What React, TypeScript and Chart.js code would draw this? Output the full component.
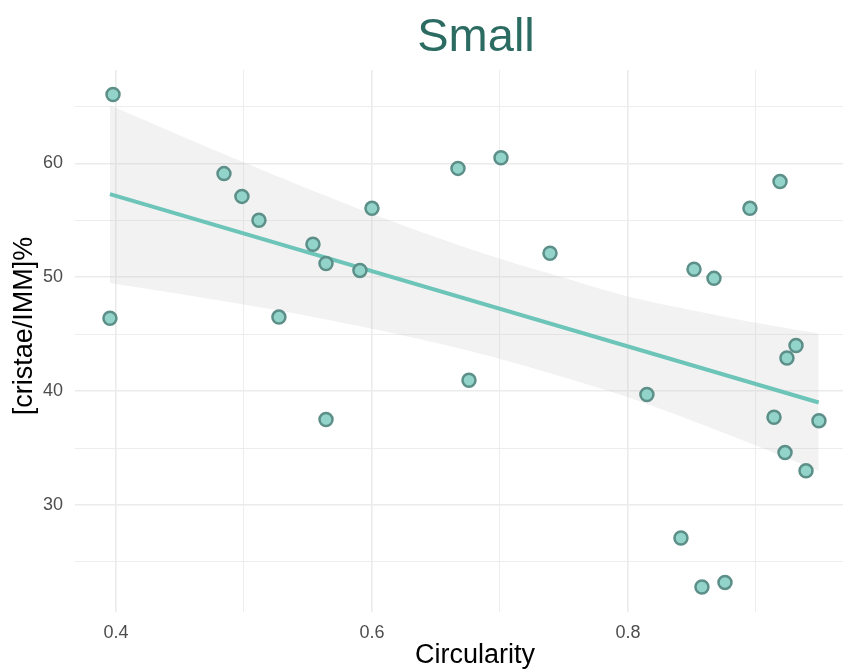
import React, { useEffect, useRef } from "react";
import { Chart, registerables } from "chart.js";

Chart.register(...registerables);

const circularity = [
  0.3977, 0.3953, 0.4844, 0.4984, 0.5117, 0.5273, 0.5539, 0.5641, 0.5641, 0.5906,
  0.6, 0.6672, 0.6758, 0.7008, 0.7391, 0.8148, 0.8414, 0.8516, 0.8578, 0.8672,
  0.8758, 0.8953, 0.9188, 0.9141, 0.9242, 0.9227, 0.9313, 0.9391, 0.9492,
];
const cristae = [
  66.05, 46.4, 59.1, 57.1, 55.0, 46.5, 52.9, 51.2, 37.5, 50.6,
  56.05, 59.56, 40.96, 60.5, 52.1, 39.7, 27.1, 50.7, 22.8, 49.9,
  23.2, 56.05, 58.4, 37.7, 42.9, 34.6, 44.0, 33.0, 37.4,
];

const fitX = [0.3953, 0.949];
const fitY = [57.3, 39.0];

const bandX = [0.3953, 0.45, 0.5, 0.55, 0.6, 0.65, 0.7, 0.75, 0.8, 0.85, 0.9, 0.949];
const bandUpper = [65.1, 62.45, 60.08, 57.78, 55.58, 53.52, 51.63, 49.95, 48.3, 47.1, 46.0, 45.05];
const bandLower = [49.5, 48.53, 47.6, 46.6, 45.48, 44.24, 42.83, 41.21, 39.45, 37.4, 35.22, 33.0];

const xTicks = [0.4, 0.5, 0.6, 0.7, 0.8, 0.9];
const xLabels = ["0.4", "", "0.6", "", "0.8", ""];
const yTicks = [25, 30, 35, 40, 45, 50, 55, 60, 65];
const yLabels = ["", "30", "", "40", "", "50", "", "60", ""];

const titleText = "Small";
const xTitle = "Circularity";
const yTitle = "[cristae/IMM]%";

const FONT = "'Liberation Sans', Arial, sans-serif";

const textPlugin = {
  id: "ggTexts",
  afterDraw(chart: any) {
    const ctx = chart.ctx;
    ctx.save();
    ctx.textAlign = "center";
    ctx.textBaseline = "alphabetic";
    ctx.fillStyle = "#2b6b62";
    ctx.font = `47px ${FONT}`;
    ctx.fillText(titleText, 476, 51);
    ctx.fillStyle = "#000000";
    ctx.font = `27px ${FONT}`;
    ctx.fillText(xTitle, 475, 663);
    ctx.translate(32, 326);
    ctx.rotate(-Math.PI / 2);
    ctx.fillText(yTitle, 0, 0);
    ctx.restore();
  },
};

export default function App() {
  const ref = useRef<HTMLCanvasElement>(null);
  useEffect(() => {
    if (!ref.current) return;
    const chart = new Chart(ref.current, {
      type: "scatter",
      data: {
        datasets: [
          {
            label: "points",
            data: circularity.map((x, i) => ({ x, y: cristae[i] })),
            backgroundColor: "#93d4ca",
            borderColor: "#5d8f89",
            borderWidth: 2.5,
            pointRadius: 6.5,
            pointHoverRadius: 6.5,
            order: 0,
          },
          {
            label: "fit",
            data: fitX.map((x, i) => ({ x, y: fitY[i] })),
            showLine: true,
            borderColor: "#6cc5b8",
            borderWidth: 4,
            pointRadius: 0,
            fill: false,
            order: 1,
          },
          {
            label: "upper",
            data: bandX.map((x, i) => ({ x, y: bandUpper[i] })),
            showLine: true,
            borderWidth: 0,
            borderColor: "rgba(0,0,0,0)",
            pointRadius: 0,
            backgroundColor: "rgba(190,190,190,0.2)",
            fill: "+1",
            tension: 0.3,
            order: 2,
          },
          {
            label: "lower",
            data: bandX.map((x, i) => ({ x, y: bandLower[i] })),
            showLine: true,
            borderWidth: 0,
            borderColor: "rgba(0,0,0,0)",
            pointRadius: 0,
            fill: false,
            tension: 0.3,
            order: 3,
          },
        ],
      },
      options: {
        animation: false,
        responsive: false,
        events: [],
        layout: { autoPadding: false, padding: { top: 70, right: 0, bottom: 0, left: 0 } },
        plugins: {
          legend: { display: false },
          tooltip: { enabled: false },
          title: { display: false },
        },
        scales: {
          x: {
            type: "linear",
            min: 0.368,
            max: 0.968,
            border: { display: false },
            afterBuildTicks: (s: any) => {
              s.ticks = xTicks.map((v) => ({ value: v }));
            },
            afterFit: (s: any) => {
              s.height = 57;
            },
            grid: {
              color: "#ebebeb",
              lineWidth: (c: any) => ((c.index ?? 0) % 2 === 0 ? 1.6 : 0.9),
              drawTicks: false,
            },
            ticks: {
              padding: 10,
              color: "#4d4d4d",
              font: { family: FONT, size: 18 },
              maxRotation: 0,
              autoSkip: false,
              callback: (_v: any, i: number) => xLabels[i],
            },
          },
          y: {
            type: "linear",
            min: 20.6,
            max: 68.2,
            border: { display: false },
            afterBuildTicks: (s: any) => {
              s.ticks = yTicks.map((v) => ({ value: v }));
            },
            afterFit: (s: any) => {
              s.width = 75;
            },
            grid: {
              color: "#ebebeb",
              lineWidth: (c: any) => ((c.index ?? 0) % 2 === 1 ? 1.6 : 0.9),
              drawTicks: false,
            },
            ticks: {
              padding: 12,
              color: "#4d4d4d",
              font: { family: FONT, size: 18 },
              autoSkip: false,
              callback: (_v: any, i: number) => yLabels[i],
            },
          },
        },
      },
      plugins: [textPlugin],
    });
    return () => chart.destroy();
  }, []);
  return (
    <div style={{ position: "absolute", left: 0, top: 0, width: 843, height: 669, background: "#fff" }}>
      <canvas ref={ref} width={843} height={669} style={{ display: "block" }} />
    </div>
  );
}
